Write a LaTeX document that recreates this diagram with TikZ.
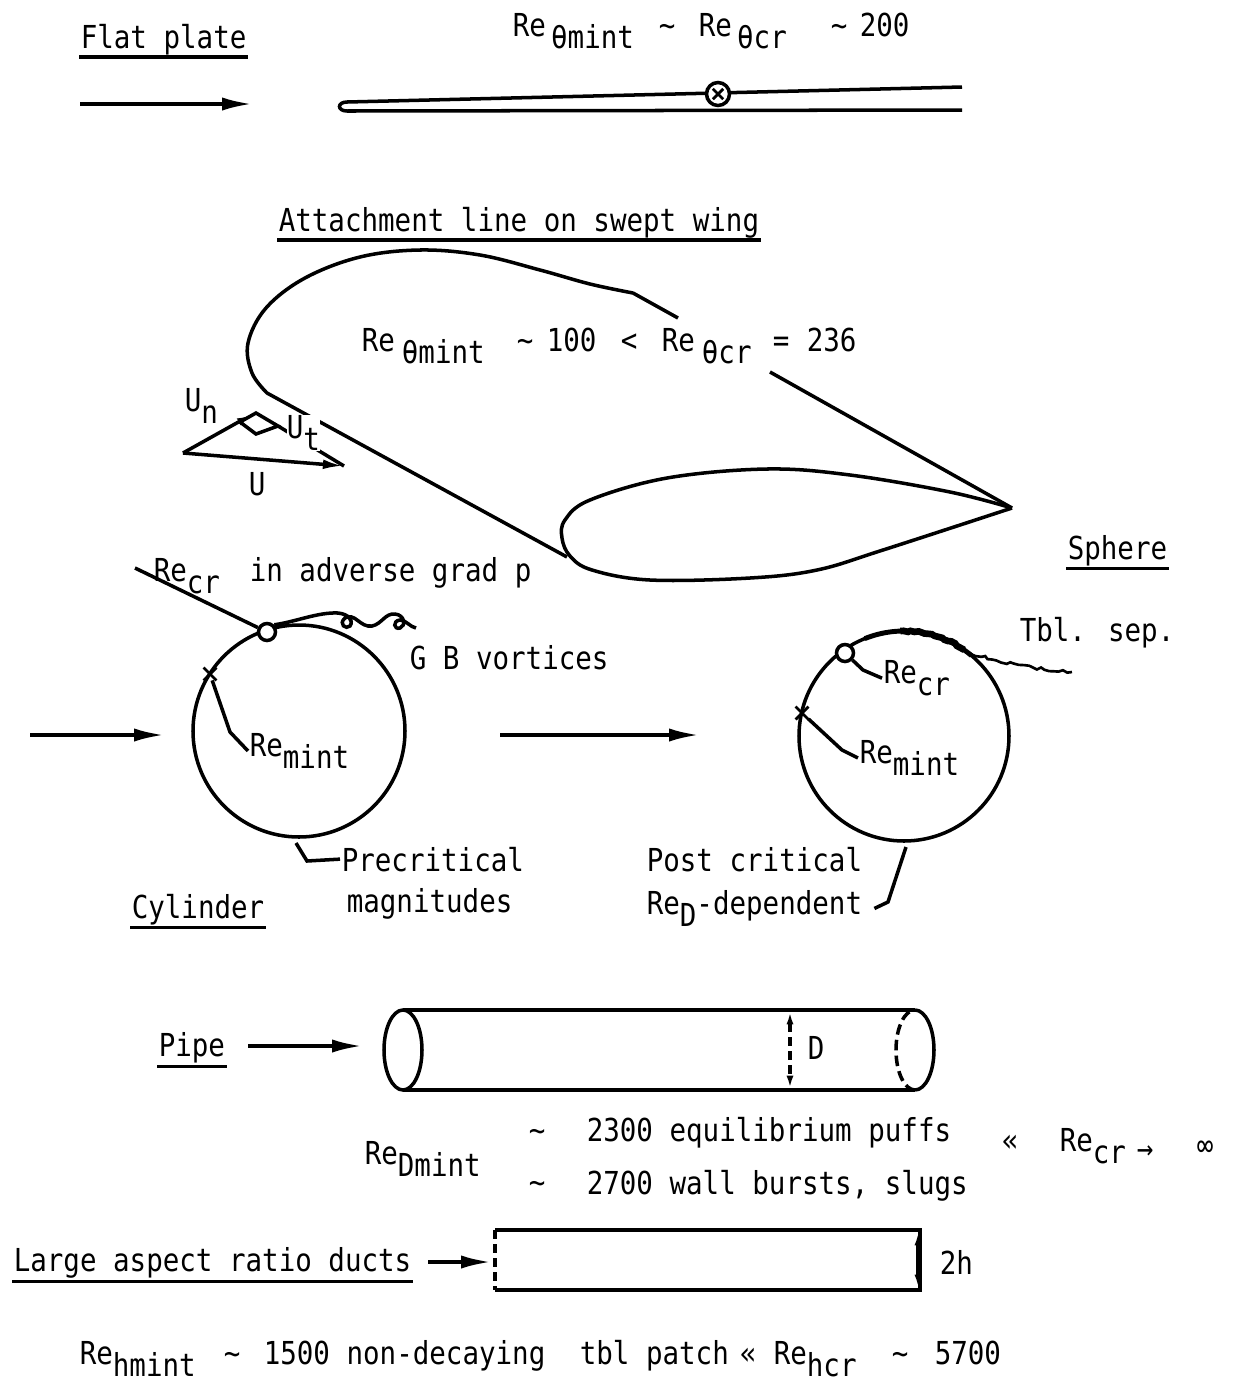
\documentclass[tikz,border=0pt]{standalone}
\usepackage{fontspec}
\setmainfont{DejaVu Sans Mono}[FakeStretch=0.87]
\usepackage{xcolor}
\usepackage{tikz}
\usetikzlibrary{positioning}
\usetikzlibrary{arrows.meta}
\usetikzlibrary{shapes.misc}
\usetikzlibrary{decorations.pathmorphing}
\tikzset{edge/.style = {->,> = {Latex[length=17pt,width=7.5pt]}}}
\tikzset{vec/.style = {->,> = {Latex[length=12pt,width=5.5pt]}}}
\tikzset{dimline/.style = {<->,> = {Latex[length=7pt,width=4pt]}}}
\newcommand{\lo}[1]{\raisebox{-0.41em}{#1}}
\newcommand{\tld}{\textasciitilde}

\begin{document}
\begin{tikzpicture}[x=0.02cm,y=-0.02cm,line width=2pt,
  lbl/.style={anchor=base west,inner sep=0pt,font=\fontsize{18}{22}\selectfont},
  ring/.style={circle,draw,fill=white,inner sep=0pt,minimum size=0.34cm},
  xmark/.style={cross out,draw,inner sep=0pt,minimum size=0.2cm,line width=1.6pt}]
\useasboundingbox (0,0) rectangle (1234,1384);

\node[lbl] (flat) at (79,48) {Flat plate};
\draw ([yshift=-5pt]flat.base west) -- ([yshift=-5pt]flat.base east);
\coordinate (fa) at (80,104);
\coordinate (fb) at (252,104);
\draw[edge] (fa) -- (fb);
\draw (962,110) -- (347,111) .. controls (337,111) and (337,102) .. (347,102) -- (962,87);
\node[ring,minimum size=0.46cm] (pc) at (718,94) {};
\node[xmark,minimum size=0.15cm] (px) at (718,94) {};
\node[lbl] (fre1) at (511,36) {Re\lo{\kern3pt θmint}};
\node[lbl] (fsim1) at (657,36) {\tld};
\node[lbl] (fre2) at (697,36) {Re\lo{\kern3pt θcr}};
\node[lbl] (fsim2) at (829,36) {\tld};
\node[lbl] (fval) at (858,36) {200};

\node[lbl] (att) at (277,231) {Attachment line on swept wing};
\draw ([yshift=-5pt]att.base west) -- ([yshift=-5pt]att.base east);
\draw (678,318) -- (633,293) plot[smooth,tension=0.6] coordinates {(633,293) (590,284) (540,270) (480,255) (420,250) (360,257) (305,278) (266,308) (248,343) (252,373) (267,393)} -- (567,557);
\draw (770,372) -- (1012,508);
\draw plot[smooth,tension=0.6] coordinates {(1012,508) (950,492) (850,475) (767,469) (667,478) (590,500) (565,520) (562,538) (570,556) (592,570) (650,580) (750,578) (817,570) (883,550) (1012,508)};
\node[lbl] (wre1) at (360,351) {Re\lo{\kern4pt θmint}};
\node[lbl] (wsim) at (515,351) {\tld};
\node[lbl] (wval1) at (545,351) {100};
\node[lbl] (wlt) at (619,351) {<};
\node[lbl] (wre2) at (660,351) {Re\lo{\kern4pt θcr}};
\node[lbl] (weq) at (771,351) {=};
\node[lbl] (wval2) at (805,351) {236};

\coordinate (O) at (183,453);
\coordinate (Un) at (251,415);
\coordinate (Uend) at (344,466);
\draw (240,422) -- (256,413) -- (278,426) -- (256,434) -- cycle;
\draw (278,426) -- (Uend);
\draw[vec,> = {Latex[length=8pt,width=4.5pt]}] (O) -- (Un);
\draw[vec] (O) -- (Uend);
\node[lbl] (lun) at (183,411) {U\lo{n}};
\node[lbl,fill=white] (lut) at (285,438) {U\lo{t}};
\node[lbl] (lu) at (247,495) {U};

\draw (299,731) circle [radius=106];
\node[ring] (ccr) at (267,632) {};
\node[xmark] (cxm) at (210,674) {};
\node[lbl] (recr) at (152,581) {Re\lo{cr}};
\node[lbl] (adv) at (248,581) {in adverse grad p};
\coordinate (cl) at (135,568);
\draw (ccr) -- (cl) -- (recr.west);
\draw (ccr.north east) .. controls (295,622) and (318,612) .. (338,613) .. controls (348,614) and (354,620) .. (350,626) .. controls (346,630) and (338,624) .. (345,618) .. controls (355,612) and (360,628) .. (372,626) .. controls (382,624) and (385,613) .. (395,614) .. controls (405,615) and (406,626) .. (400,628) .. controls (394,630) and (392,621) .. (400,620) .. controls (406,620) and (410,627) .. (416,628);
\node[lbl] (gb) at (408,669) {G B vortices};
\node[lbl] (cmint) at (248,756) {Re\lo{mint}};
\coordinate (cm) at (230,732);
\draw (cxm) -- (cm) -- (cmint.west);
\node[lbl] (pre) at (340,871) {Precritical};
\node[lbl] (mag) at (345,912) {magnitudes};
\coordinate (cb) at (296,843);
\coordinate (cbk) at (307,861);
\draw (cb) -- (cbk) -- (pre.west);
\node[lbl] (cyl) at (130,918) {Cylinder};
\draw ([yshift=-5.5pt]cyl.base west) -- ([yshift=-5.5pt]cyl.base east);
\coordinate (la) at (30,735);
\coordinate (lb) at (164,735);
\draw[edge] (la) -- (lb);
\coordinate (ma) at (500,735);
\coordinate (mb) at (699,735);
\draw[edge] (ma) -- (mb);

\node[lbl] (sph) at (1066,559) {Sphere};
\draw ([yshift=-5.5pt]sph.base west) -- ([yshift=-5.5pt]sph.base east);
\draw (904,736) circle [radius=105];
\draw[line width=2.8pt] (904,736) ++(-112:105) arc [start angle=-112, end angle=-50, radius=105];
\draw[line width=3.8pt,decorate,decoration={random steps,segment length=2pt,amplitude=0.5pt}] (904,736) ++(-92:105) arc [start angle=-92, end angle=-55, radius=105];
\draw[line width=1.5pt,decorate,decoration={random steps,segment length=2.5pt,amplitude=0.9pt}] (968,652) .. controls (1000,663) and (1030,668) .. (1072,672);
\node[lbl] (tbl) at (1018,641) {Tbl. sep.};
\node[ring] (scr) at (845,653) {};
\node[xmark] (sxm) at (802,713) {};
\node[lbl] (srcr) at (882,683) {Re\lo{cr}};
\coordinate (sk1) at (863,670);
\draw (scr) -- (sk1) -- (srcr.west);
\node[lbl] (smint) at (858,763) {Re\lo{mint}};
\coordinate (sk2) at (842,750);
\draw (sxm) -- (sk2) -- (smint.west);
\node[lbl] (post) at (645,871) {Post critical};
\node[lbl] (pdep) at (645,914) {Re\lo{D}-dependent};
\coordinate (sb) at (906,847);
\coordinate (sbk) at (888,902);
\draw (sb) -- (sbk) -- ([xshift=6pt]pdep.east);

\node[lbl] (pipe) at (157,1056) {Pipe};
\draw ([yshift=-6pt]pipe.base west) -- ([yshift=-6pt]pipe.base east);
\coordinate (pa) at (248,1046);
\coordinate (pb) at (362,1046);
\draw[edge] (pa) -- (pb);
\draw (403,1050) ellipse [x radius=19, y radius=40];
\draw (403,1010) -- (915,1010);
\draw (403,1090) -- (915,1090);
\draw (915,1010) arc [start angle=-90, end angle=90, x radius=19, y radius=40];
\draw[dash pattern=on 6pt off 3pt] (915,1090) arc [start angle=90, end angle=270, x radius=19, y radius=40];
\coordinate (dt) at (790,1012);
\coordinate (db) at (790,1088);
\draw[dimline,dash pattern=on 5pt off 3pt] (dt) -- (db);
\node[lbl] (dd) at (806,1059) {D};
\node[lbl] (psim1) at (527,1141) {\tld};
\node[lbl] (puffs) at (585,1141) {2300 equilibrium puffs};
\node[lbl] (pdm) at (363,1164) {Re\lo{Dmint}};
\node[lbl] (psim2) at (527,1193) {\tld};
\node[lbl] (slugs) at (585,1194) {2700 wall bursts, slugs};
\node[lbl] (pll) at (1000,1151) {«};
\node[lbl] (pcr) at (1058,1151) {Re\lo{cr}};
\node[lbl] (parr) at (1135,1159) {→};
\node[lbl] (pinf) at (1195,1156) {∞};

\node[lbl] (duct) at (12,1271) {Large aspect ratio ducts};
\draw ([yshift=-6pt]duct.base west) -- ([yshift=-6pt]duct.base east);
\coordinate (da) at (428,1262);
\coordinate (db2) at (491,1262);
\draw[edge] (da) -- (db2);
\draw (495,1230) -- (920,1230) -- (920,1290) -- (495,1290);
\draw[dash pattern=on 5pt off 3pt] (495,1230) -- (495,1290);
\coordinate (ht) at (918,1233);
\coordinate (hb) at (918,1287);
\draw[dimline] (ht) -- (hb);
\node[lbl] (hh) at (938,1274) {2h};

\node[lbl] (hre) at (78,1364) {Re\lo{hmint}};
\node[lbl] (hsim1) at (222,1364) {\tld};
\node[lbl] (hnd) at (262,1364) {1500 non-decaying};
\node[lbl] (htbl) at (578,1364) {tbl patch};
\node[lbl] (hll) at (738,1364) {«};
\node[lbl] (hcr) at (772,1364) {Re\lo{hcr}};
\node[lbl] (hsim2) at (890,1364) {\tld};
\node[lbl] (hval) at (933,1364) {5700};
\end{tikzpicture}
\end{document}
